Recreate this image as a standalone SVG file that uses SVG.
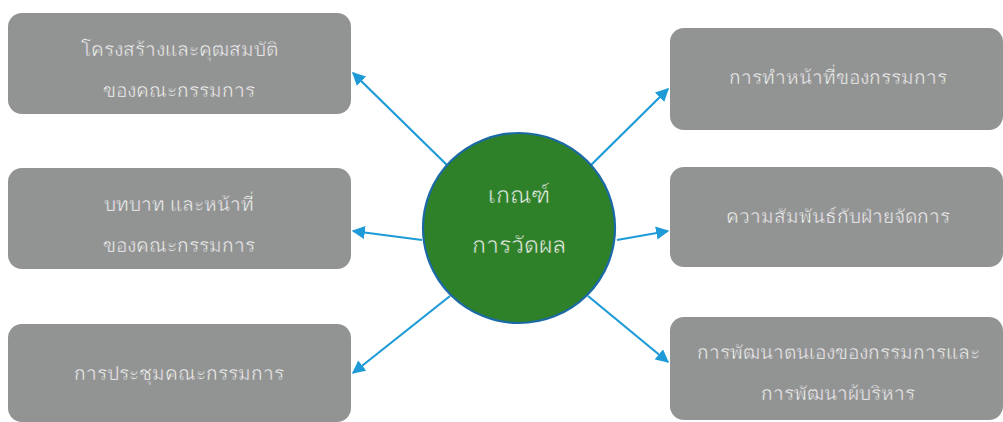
<svg xmlns="http://www.w3.org/2000/svg" width="1003" height="422" viewBox="0 0 1003 422">
  <style>
    .box { fill: #929393; }
    .bt { font-family: "Noto Sans", "DejaVu Sans", sans-serif; font-size: 19px; font-weight: 300; fill: #ffffff; stroke: #929393; stroke-width: 0.5; text-anchor: middle; }
    .ct { font-family: "Noto Sans", "DejaVu Sans", sans-serif; font-size: 23px; font-weight: 300; fill: #eef3ee; stroke: #2e8129; stroke-width: 0.5; text-anchor: middle; }
    .conn { stroke: #1e9bd7; stroke-width: 2.2; fill: none; marker-end: url(#ah); }
  </style>
  <defs>
    <marker id="ah" viewBox="0 0 10 10" refX="9" refY="5" markerWidth="6" markerHeight="6" markerUnits="strokeWidth" orient="auto">
      <path d="M0,0 L10,5 L0,10 Z" fill="#1e9bd7"/>
    </marker>
  </defs>
  <rect width="1003" height="422" fill="#ffffff"/>
  <g id="node-structure">
    <rect class="box" x="8" y="13" width="343" height="101" rx="14"/>
    <text class="bt" x="179" y="56">โครงสร้างและคุฒสมบัติ</text>
    <text class="bt" x="179" y="97">ของคณะกรรมการ</text>
  </g>
  <g id="node-roles">
    <rect class="box" x="8" y="168" width="343" height="101" rx="14"/>
    <text class="bt" x="179" y="211">บทบาท และหน้าที่</text>
    <text class="bt" x="179" y="252">ของคณะกรรมการ</text>
  </g>
  <g id="node-meeting">
    <rect class="box" x="8" y="324" width="343" height="98" rx="14"/>
    <text class="bt" x="179" y="380">การประชุมคณะกรรมการ</text>
  </g>
  <g id="node-duty">
    <rect class="box" x="670" y="28" width="333" height="102" rx="14"/>
    <text class="bt" x="838" y="84">การทำหน้าที่ของกรรมการ</text>
  </g>
  <g id="node-relation">
    <rect class="box" x="670" y="167" width="333" height="100" rx="14"/>
    <text class="bt" x="838" y="223">ความสัมพันธ์กับฝ่ายจัดการ</text>
  </g>
  <g id="node-development">
    <rect class="box" x="670" y="317" width="333" height="103" rx="14"/>
    <text class="bt" x="838" y="359">การพัฒนาตนเองของกรรมการและ</text>
    <text class="bt" x="838" y="400">การพัฒนาผ้บริหาร</text>
  </g>
  <g id="connectors">
    <line class="conn" x1="450" y1="168" x2="353" y2="73"/>
    <line class="conn" x1="422" y1="240" x2="353" y2="231"/>
    <line class="conn" x1="450" y1="296" x2="353" y2="373"/>
    <line class="conn" x1="588" y1="168" x2="668" y2="89"/>
    <line class="conn" x1="617" y1="240" x2="668" y2="231"/>
    <line class="conn" x1="588" y1="296" x2="668" y2="362"/>
  </g>
  <g id="node-center">
    <ellipse cx="519" cy="228" rx="96" ry="95" fill="#2e8129" stroke="#1b6aa5" stroke-width="2.2"/>
    <text class="ct" x="519" y="203">เกณฑ์</text>
    <text class="ct" x="519" y="253">การวัดผล</text>
  </g>
</svg>
